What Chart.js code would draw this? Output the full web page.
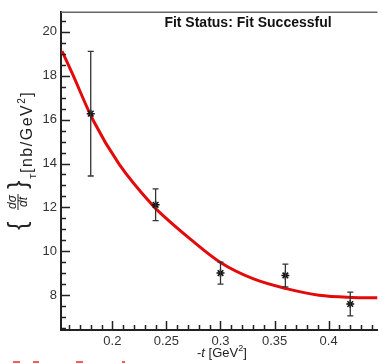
<!DOCTYPE html>
<html>
<head>
<meta charset="utf-8">
<script src="https://cdn.jsdelivr.net/npm/chart.js@4"></script>
<style>
  html, body { margin: 0; padding: 0; background: #fff; }
  #wrap { width: 383px; height: 363px; }
</style>
</head>
<body>
<div id="wrap"><canvas id="fitChart"></canvas></div>
<script>
// --- data ---
const tPoints = [0.18, 0.24, 0.30, 0.36, 0.42];
const sigmaT = [16.27, 12.12, 9.01, 8.90, 7.60];
const sigmaErr = [2.84, 0.72, 0.50, 0.52, 0.54];

// fitted curve, sampled along the red line
const fitT = [0.1534, 0.1625, 0.1821, 0.2064, 0.2382, 0.2427, 0.273, 0.300, 0.3306, 0.3609, 0.3912, 0.4215, 0.4452];
const fitV = [19.12, 18.15, 15.98, 13.96, 12.04, 11.82, 10.52, 9.49, 8.74, 8.30, 8.00, 7.90, 7.88];

const xTicks = [0.2, 0.25, 0.3, 0.35, 0.4];
const yTicks = [8, 10, 12, 14, 16, 18, 20];

const FONT = '"Liberation Sans", Arial, Helvetica, sans-serif';

// error bars with small caps
const errorBars = {
    id: 'errorBars',
    afterDatasetsDraw(chart) {
        const { ctx, scales: { x, y } } = chart;
        ctx.save();
        ctx.strokeStyle = '#333';
        ctx.lineWidth = 1.3;
        tPoints.forEach((t, i) => {
            const px = x.getPixelForValue(t);
            const top = y.getPixelForValue(sigmaT[i] + sigmaErr[i]);
            const bot = y.getPixelForValue(sigmaT[i] - sigmaErr[i]);
            ctx.beginPath();
            ctx.moveTo(px, top); ctx.lineTo(px, bot);
            ctx.moveTo(px - 3, top); ctx.lineTo(px + 3, top);
            ctx.moveTo(px - 3, bot); ctx.lineTo(px + 3, bot);
            ctx.stroke();
        });
        ctx.restore();
    }
};

// ROOT-like frame: inward ticks, top line, axis titles
const rootFrame = {
    id: 'rootFrame',
    afterDraw(chart) {
        const { ctx, chartArea: a, scales: { x, y } } = chart;
        ctx.save();
        ctx.strokeStyle = '#222';
        ctx.lineWidth = 1.5;
        ctx.beginPath();
        // x ticks every 0.01, major every 0.05
        for (let i = 16; i <= 44; i++) {
            const px = Math.round(x.getPixelForValue(i / 100)) + 0.5;
            const len = i % 5 === 0 ? 9 : 5;
            ctx.moveTo(px, a.bottom); ctx.lineTo(px, a.bottom - len);
        }
        // y ticks every 0.5, major every 2
        for (let i = 13; i <= 41; i++) {
            const py = Math.round(y.getPixelForValue(i / 2)) + 0.5;
            const len = i % 4 === 0 ? 9 : 5;
            ctx.moveTo(a.left, py); ctx.lineTo(a.left + len, py);
        }
        ctx.stroke();

        // top frame line
        ctx.strokeStyle = '#666';
        ctx.beginPath();
        ctx.moveTo(a.left, a.top + 0.5); ctx.lineTo(a.right, a.top + 0.5);
        ctx.stroke();

        // title
        ctx.fillStyle = '#111';
        ctx.font = 'bold 14px ' + FONT;
        ctx.textAlign = 'center';
        ctx.textBaseline = 'alphabetic';
        ctx.fillText('Fit Status: Fit Successful', 248, 27);

        // x title: -t [GeV^2]
        ctx.fillStyle = '#222';
        ctx.textAlign = 'left';
        let cx = 197;
        const parts = [
            ['-', '13px ' + FONT, 357], ['t', 'italic 13px ' + FONT, 357],
            [' [GeV', '13px ' + FONT, 357], ['2', '9px ' + FONT, 351], [']', '13px ' + FONT, 357]
        ];
        parts.forEach(([s, f, by]) => {
            ctx.font = f;
            ctx.fillText(s, cx, by);
            cx += ctx.measureText(s).width;
        });

        // y title, rotated: u = -screenY, v = screenX
        ctx.save();
        ctx.rotate(-Math.PI / 2);
        ctx.fillStyle = '#222';
        ctx.font = '25px ' + FONT;
        ctx.fillText('{', -230, 26);
        ctx.font = 'italic 12px ' + FONT;
        ctx.textAlign = 'center';
        ctx.fillText('d\u03c3', -202, 16);
        ctx.fillText('dt', -202, 27);
        ctx.fillRect(-210, 17.5, 16, 1);
        ctx.textAlign = 'left';
        ctx.font = '25px ' + FONT;
        ctx.fillText('}', -189, 26);
        ctx.font = '9px ' + FONT;
        ctx.fillText('T', -179, 36);
        ctx.letterSpacing = '1.5px';
        let u = -173;
        [['[nb/GeV', '16px ' + FONT, 32], ['2', '10px ' + FONT, 25], [']', '16px ' + FONT, 32]].forEach(([s, f, v]) => {
            ctx.font = f;
            ctx.fillText(s, u, v);
            u += ctx.measureText(s).width;
        });
        ctx.restore();

        // cut-off red text at the very bottom
        ctx.fillStyle = '#ff5a5a';
        ctx.fillRect(13, 361, 7, 2);
        ctx.fillRect(33, 361, 6, 2);
        ctx.fillRect(76, 361, 7, 2);
        ctx.fillRect(122, 361, 3, 2);
        ctx.restore();
    }
};

new Chart(document.getElementById('fitChart').getContext('2d'), {
    type: 'scatter',
    data: {
        datasets: [{
            label: 'data',
            data: tPoints.map((t, i) => ({ x: t, y: sigmaT[i] })),
            pointStyle: 'star',
            pointRadius: 4,
            borderColor: '#111',
            backgroundColor: '#111',
            borderWidth: 1.5,
            showLine: false
        }, {
            label: 'fit',
            type: 'line',
            data: fitT.map((t, i) => ({ x: t, y: fitV[i] })),
            borderColor: 'rgb(226, 10, 10)',
            borderWidth: 3,
            pointRadius: 0,
            cubicInterpolationMode: 'monotone',
            fill: false
        }]
    },
    options: {
        responsive: true,
        maintainAspectRatio: false,
        animation: false,
        devicePixelRatio: 1,
        layout: { padding: { top: 7, right: 0, left: 0, bottom: 0 } },
        plugins: { legend: { display: false }, tooltip: { enabled: false } },
        scales: {
            x: {
                type: 'linear',
                min: 0.1525,
                max: 0.4452,
                afterBuildTicks: s => { s.ticks = xTicks.map(v => ({ value: v })); },
                afterFit: s => { s.height = 33; },
                grid: { display: false, drawTicks: false },
                border: { display: true, color: '#222', width: 2 },
                ticks: { color: '#333', font: { family: FONT, size: 13 }, padding: 4, callback: v => String(v), maxRotation: 0 }
            },
            y: {
                min: 6.416,
                max: 20.91,
                afterBuildTicks: s => { s.ticks = yTicks.map(v => ({ value: v })); },
                afterFit: s => { s.width = 61; },
                grid: { display: false, drawTicks: false },
                border: { display: true, color: '#222', width: 2 },
                ticks: { color: '#333', font: { family: FONT, size: 13 }, padding: 4, callback: v => String(v) }
            }
        }
    },
    plugins: [errorBars, rootFrame]
});
</script>
</body>
</html>
